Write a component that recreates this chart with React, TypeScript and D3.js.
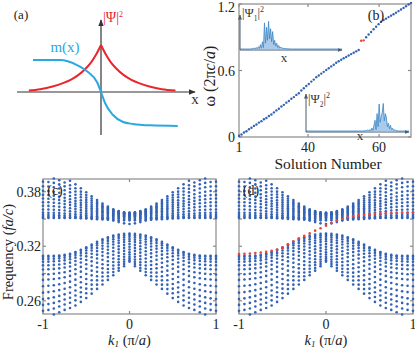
import React from 'react'
import * as d3 from 'd3'

const W = 415
const H = 348
const FONT = '"Liberation Serif", "Times New Roman", serif'
const DOT_BLUE = '#3462b4'
const DOT_RED = '#e8453c'
const BOX = '#8a8a8a'

// ---- (a) schematic: |psi|^2 and mass profile m(x)
const psiX = [-0.95, -0.8, -0.65, -0.5, -0.4, -0.3, -0.2, -0.13, -0.07, 0, 0.07, 0.13, 0.2, 0.3, 0.4, 0.5, 0.65, 0.8, 0.98]
const psiY = [0.03, 0.06, 0.11, 0.19, 0.26, 0.36, 0.5, 0.63, 0.78, 1, 0.78, 0.63, 0.5, 0.36, 0.26, 0.19, 0.11, 0.06, 0.03]
const mX = [-0.895, -0.54, -0.316, -0.171, -0.053, 0, 0.053, 0.158, 0.29, 0.42, 0.645, 1.01]
const mY = [0.68, 0.68, 0.574, 0.426, 0.213, 0, -0.234, -0.489, -0.638, -0.68, -0.71, -0.723]

// ---- (b) eigenfrequency vs solution number
const bOmega = [
  0.010, 0.022, 0.040, 0.052, 0.070, 0.083, 0.100, 0.113, 0.130, 0.143,
  0.160, 0.172, 0.190, 0.203, 0.222, 0.240, 0.255, 0.275, 0.290, 0.310,
  0.325, 0.345, 0.360, 0.380, 0.395, 0.420, 0.440, 0.460, 0.478, 0.500,
  0.518, 0.540, 0.555, 0.572, 0.588, 0.605, 0.620, 0.637, 0.652, 0.670,
  0.683, 0.697, 0.710, 0.722, 0.735, 0.748, 0.760, 0.773, 0.785, 0.868,
  0.872, 0.900, 0.925, 0.948, 0.972, 0.995, 1.018, 1.040, 1.055, 1.068,
  1.082, 1.095, 1.108, 1.122, 1.136, 1.150, 1.165, 1.180, 1.195, 1.210,
]
const bRed = [50, 51]
const bYTicks = [0, 0.6, 1.2]
const bYTickLabels = ['0', '0.6', '1.2']
const bXTicks = [1, 28.7, 57.2]
const bXTickLabels = ['1', '40', '60']

// insets: mode profiles
const ins1X = [0, 10, 12, 14, 15, 16, 17, 18, 19, 20, 21, 22, 23, 24, 25, 26, 27, 28, 29, 30, 31, 32, 33, 34, 35, 36, 37, 38, 39, 40, 42, 45, 50, 100]
const ins1Y = [0, 0, 0.01, 0.03, 0, 0.05, 0.01, 0.08, 0.02, 0.15, 0.03, 0.25, 0.05, 0.9, 0.2, 0.75, 0.3, 0.95, 0.35, 0.7, 0.25, 0.6, 0.15, 0.3, 0.1, 0.2, 0.05, 0.12, 0.03, 0.06, 0.02, 0.01, 0, 0]
const ins2X = [0, 55, 58, 60, 61, 62, 63, 64, 65, 66, 67, 68, 69, 70, 71, 72, 73, 74, 75, 76, 77, 78, 79, 80, 81, 82, 83, 84, 85, 86, 88, 90, 100]
const ins2Y = [0, 0, 0.01, 0.03, 0, 0.05, 0.01, 0.1, 0.02, 0.2, 0.37, 0.05, 0.6, 0.15, 0.93, 0.3, 0.5, 0.63, 0.95, 0.35, 0.6, 0.47, 0.15, 0.27, 0.08, 0.2, 0.05, 0.1, 0.02, 0.04, 0.01, 0, 0]

// ---- (c),(d) projected band structure, k >= 0 half (mirrored for k < 0)
const kHalf = [0, 0.0625, 0.125, 0.1875, 0.25, 0.3125, 0.375, 0.4375, 0.5, 0.5625, 0.625, 0.6875, 0.75, 0.8125, 0.875, 0.9375, 1]
const upperBands = [
  [0.3445, 0.3452, 0.3466, 0.3484, 0.3499, 0.3507, 0.3511, 0.3512, 0.3512, 0.3512, 0.3512, 0.3512, 0.3512, 0.3512, 0.3512, 0.3512, 0.3512],
  [0.3485, 0.3485, 0.3487, 0.3488, 0.3491, 0.3494, 0.3497, 0.3501, 0.3505, 0.3509, 0.3513, 0.3516, 0.3519, 0.3522, 0.3523, 0.3525, 0.3525],
  [0.35, 0.35, 0.3502, 0.3504, 0.3507, 0.351, 0.3514, 0.3518, 0.3523, 0.3527, 0.3531, 0.3535, 0.3538, 0.3541, 0.3543, 0.3545, 0.3545],
  [0.351, 0.3511, 0.3512, 0.3515, 0.3519, 0.3523, 0.3529, 0.3534, 0.354, 0.3546, 0.3551, 0.3557, 0.3561, 0.3565, 0.3568, 0.3569, 0.357],
  [0.352, 0.3521, 0.3523, 0.3527, 0.3532, 0.3539, 0.3546, 0.3554, 0.3563, 0.3571, 0.3579, 0.3586, 0.3593, 0.3598, 0.3602, 0.3604, 0.3605],
  [0.353, 0.3531, 0.3534, 0.354, 0.3547, 0.3556, 0.3566, 0.3576, 0.3588, 0.3599, 0.3609, 0.3619, 0.3628, 0.3635, 0.3641, 0.3644, 0.3645],
  [0.354, 0.3541, 0.3546, 0.3552, 0.3561, 0.3572, 0.3585, 0.3598, 0.3613, 0.3627, 0.364, 0.3653, 0.3664, 0.3673, 0.3679, 0.3684, 0.3685],
  [0.3545, 0.3547, 0.3552, 0.356, 0.3571, 0.3585, 0.3601, 0.3617, 0.3635, 0.3653, 0.3669, 0.3685, 0.3699, 0.371, 0.3718, 0.3723, 0.3725],
  [0.355, 0.3552, 0.3558, 0.3568, 0.3581, 0.3598, 0.3616, 0.3637, 0.3658, 0.3678, 0.3699, 0.3717, 0.3734, 0.3747, 0.3757, 0.3763, 0.3765],
  [0.3555, 0.3557, 0.3565, 0.3576, 0.3592, 0.3612, 0.3634, 0.3658, 0.3683, 0.3707, 0.3731, 0.3753, 0.3773, 0.3789, 0.38, 0.3808, 0.381],
  [0.356, 0.3563, 0.3571, 0.3585, 0.3604, 0.3627, 0.3653, 0.3681, 0.371, 0.3739, 0.3767, 0.3793, 0.3816, 0.3835, 0.3849, 0.3857, 0.386],
  [0.3563, 0.3566, 0.3576, 0.3592, 0.3614, 0.364, 0.367, 0.3703, 0.3737, 0.377, 0.3803, 0.3833, 0.3859, 0.3881, 0.3897, 0.3907, 0.391],
  [0.3566, 0.357, 0.3581, 0.3599, 0.3624, 0.3654, 0.3688, 0.3725, 0.3763, 0.3801, 0.3838, 0.3872, 0.3902, 0.3927, 0.3945, 0.3956, 0.396],
  [0.357, 0.3574, 0.3587, 0.3608, 0.3636, 0.367, 0.3709, 0.3751, 0.3795, 0.3839, 0.3881, 0.392, 0.3954, 0.3982, 0.4003, 0.4016, 0.402],
]
const lowerBands = [
  [0.334, 0.3338, 0.333, 0.3318, 0.33, 0.3276, 0.3249, 0.322, 0.319, 0.3161, 0.3137, 0.3117, 0.3105, 0.3099, 0.3096, 0.3095, 0.3095],
  [0.3325, 0.3321, 0.3313, 0.3301, 0.3283, 0.326, 0.3234, 0.3206, 0.3177, 0.315, 0.3127, 0.3108, 0.3096, 0.309, 0.3087, 0.3085, 0.3085],
  [0.3305, 0.33, 0.3291, 0.3277, 0.3259, 0.3236, 0.321, 0.3182, 0.3153, 0.3126, 0.3103, 0.3085, 0.3073, 0.3067, 0.3063, 0.3061, 0.306],
  [0.328, 0.3273, 0.3263, 0.3249, 0.323, 0.3206, 0.3181, 0.3153, 0.3124, 0.3098, 0.3075, 0.3057, 0.3045, 0.3038, 0.3034, 0.3031, 0.303],
  [0.3255, 0.3247, 0.3235, 0.3219, 0.3198, 0.3174, 0.3147, 0.3118, 0.3089, 0.3062, 0.3038, 0.302, 0.3008, 0.3, 0.2995, 0.2992, 0.299],
  [0.3225, 0.3215, 0.3201, 0.3183, 0.3162, 0.3136, 0.3108, 0.3079, 0.3049, 0.3021, 0.2997, 0.2978, 0.2966, 0.2957, 0.2951, 0.2947, 0.2945],
  [0.3195, 0.3182, 0.3166, 0.3146, 0.3122, 0.3095, 0.3065, 0.3034, 0.3002, 0.2973, 0.2947, 0.2928, 0.2915, 0.2905, 0.2898, 0.2893, 0.289],
  [0.3165, 0.3149, 0.313, 0.3107, 0.3081, 0.3051, 0.3019, 0.2986, 0.2952, 0.2921, 0.2894, 0.2874, 0.286, 0.2849, 0.284, 0.2834, 0.283],
  [0.3135, 0.3115, 0.3092, 0.3066, 0.3036, 0.3003, 0.2969, 0.2932, 0.2895, 0.2862, 0.2833, 0.2811, 0.2796, 0.2783, 0.2772, 0.2765, 0.276],
  [0.311, 0.3085, 0.3058, 0.3027, 0.2994, 0.2957, 0.292, 0.288, 0.284, 0.2805, 0.2773, 0.275, 0.2733, 0.2718, 0.2705, 0.2696, 0.269],
  [0.3085, 0.3055, 0.3023, 0.2988, 0.295, 0.291, 0.287, 0.2827, 0.2785, 0.2747, 0.2713, 0.2689, 0.2671, 0.2654, 0.2638, 0.2627, 0.262],
  [0.3065, 0.303, 0.2993, 0.2952, 0.2911, 0.2868, 0.2825, 0.2778, 0.2734, 0.2695, 0.2659, 0.2633, 0.2615, 0.2595, 0.2577, 0.2564, 0.2555],
  [0.3045, 0.3004, 0.2961, 0.2916, 0.287, 0.2824, 0.2778, 0.2729, 0.2683, 0.2642, 0.2605, 0.2578, 0.2559, 0.2537, 0.2516, 0.25, 0.249],
  [0.303, 0.2981, 0.2932, 0.2881, 0.283, 0.278, 0.2731, 0.2679, 0.263, 0.2588, 0.2548, 0.2521, 0.25, 0.2475, 0.245, 0.2432, 0.242],
]
// edge state in (d)
const edgeK = [
  -1, -0.9375, -0.875, -0.8125, -0.75, -0.6875, -0.625, -0.5625, -0.5, -0.4375, -0.375, -0.3125, -0.25, -0.1875, -0.125, -0.0625,
  0, 0.0625, 0.125, 0.1875, 0.25, 0.3125, 0.375, 0.4375, 0.5, 0.5625, 0.625, 0.6875, 0.75, 0.8125, 0.875, 0.9375, 1,
]
const edgeF = [
  0.3115, 0.3117, 0.312, 0.3125, 0.3131, 0.3138, 0.315, 0.3165, 0.3185, 0.3222, 0.3255, 0.3287, 0.3314, 0.3343, 0.3372, 0.3399,
  0.3427, 0.3455, 0.3481, 0.3503, 0.3519, 0.3531, 0.354, 0.3547, 0.3553, 0.3557, 0.356, 0.3563, 0.3566, 0.3568, 0.357, 0.3572, 0.3573,
]
const fTicks = [0.26, 0.29, 0.32, 0.35, 0.38]
const fTickLabels = ['0.26', '', '0.32', '', '0.38']
const kTicks = [-1, 0, 1]
const kTickLabels = ['-1', '0', '1']

const F_MIN = 0.2455
const F_MAX = 0.394

type Scale = d3.ScaleLinear<number, number>

function Frame({ xs, ys, xt, yt }: { xs: Scale; ys: Scale; xt: number[]; yt: number[] }) {
  const [x0, x1] = xs.range()
  const [y0, y1] = ys.range()
  const t = 3
  return (
    <g stroke={BOX} strokeWidth={1.2} fill="none">
      <rect x={x0} y={y1} width={x1 - x0} height={y0 - y1} />
      {xt.map((v, i) => (
        <g key={'x' + i}>
          <line x1={xs(v)} x2={xs(v)} y1={y0} y2={y0 - t} />
          <line x1={xs(v)} x2={xs(v)} y1={y1} y2={y1 + t} />
        </g>
      ))}
      {yt.map((v, i) => (
        <g key={'y' + i}>
          <line x1={x0} x2={x0 + t} y1={ys(v)} y2={ys(v)} />
          <line x1={x1} x2={x1 - t} y1={ys(v)} y2={ys(v)} />
        </g>
      ))}
    </g>
  )
}

function BandPanel({ left, right, tag, yLabels, edge }: { left: number; right: number; tag: string; yLabels: boolean; edge: boolean }) {
  const xs = d3.scaleLinear().domain([-1, 1]).range([left, right])
  const ys = d3.scaleLinear().domain([F_MIN, F_MAX]).range([314, 179])
  const dots: React.ReactNode[] = []
  ;[...upperBands, ...lowerBands].forEach((band, bi) => {
    kHalf.forEach((k, j) => {
      const f = band[j]
      if (f < F_MIN - 0.0005 || f > F_MAX + 0.0005) return
      const ks = k === 0 ? [0] : [-k, k]
      ks.forEach((kk) => {
        dots.push(<circle key={`${bi}-${j}-${kk}`} cx={xs(kk)} cy={ys(f)} r={1.3} fill={DOT_BLUE} />)
      })
    })
  })
  const cx = xs(0)
  return (
    <g fontFamily={FONT}>
      <Frame xs={xs} ys={ys} xt={kTicks} yt={fTicks} />
      <clipPath id={'clip' + tag}>
        <rect x={left - 2} y={177} width={right - left + 4} height={139} />
      </clipPath>
      <g clipPath={`url(#clip${tag})`}>
        {dots}
        {edge &&
          edgeK.map((k, i) => <circle key={'e' + i} cx={xs(k)} cy={ys(edgeF[i])} r={1.3} fill={DOT_RED} />)}
      </g>
      <text x={left + 12} y={195} fontSize={14} textAnchor="middle" fill="#222">
        ({tag})
      </text>
      {yLabels &&
        fTicks.map((v, i) => (
          <text key={i} x={left - 2} y={ys(v) + 4.8} fontSize={14} textAnchor="end" fill="#222">
            {fTickLabels[i]}
          </text>
        ))}
      {kTicks.map((v, i) => (
        <text key={i} x={xs(v)} y={329} fontSize={14} textAnchor="middle" fill="#222">
          {kTickLabels[i]}
        </text>
      ))}
      <text x={cx} y={344.5} fontSize={14.5} textAnchor="middle" fill="#222">
        <tspan fontStyle="italic">k</tspan>
        <tspan fontStyle="italic" fontSize={9} dy={2.5}>
          1
        </tspan>
        <tspan dy={-2.5}> (π/</tspan>
        <tspan fontStyle="italic">a</tspan>)
      </text>
    </g>
  )
}

function PanelA() {
  const xs = d3.scaleLinear().domain([-1, 1]).range([25, 177])
  const ys = d3.scaleLinear().domain([-1, 1]).range([139, 45])
  const half = (xArr: number[], yArr: number[], pick: (v: number) => boolean) => {
    const idx = xArr.map((_, i) => i).filter((i) => pick(xArr[i]))
    return d3
      .line<number>()
      .x((i) => xs(xArr[i]))
      .y((i) => ys(yArr[i]))
      .curve(d3.curveMonotoneX)(idx)
  }
  const mPath = d3
    .line<number>()
    .x((i) => xs(mX[i]))
    .y((i) => ys(mY[i]))
    .curve(d3.curveMonotoneX)(mX.map((_, i) => i))
  return (
    <g fontFamily={FONT}>
      <line x1={17} y1={ys(0)} x2={195} y2={ys(0)} stroke="#333" strokeWidth={1.2} markerEnd="url(#arrA)" />
      <line x1={xs(0)} y1={135} x2={xs(0)} y2={20} stroke="#333" strokeWidth={1.2} markerEnd="url(#arrA)" />
      <path d={half(psiX, psiY, (v) => v <= 0) || ''} fill="none" stroke="#e8262c" strokeWidth={2} />
      <path d={half(psiX, psiY, (v) => v >= 0) || ''} fill="none" stroke="#e8262c" strokeWidth={2} />
      <path d={mPath || ''} fill="none" stroke="#2aa8e0" strokeWidth={2} />
      <text x={21} y={19} fontSize={13} textAnchor="middle" fill="#222">
        (a)
      </text>
      <text x={65} y={52} fontSize={15} textAnchor="middle" fill="#2aa8e0">
        m(x)
      </text>
      <text x={103} y={22} fontSize={14} fill="#e8262c">
        |Ψ|
        <tspan fontSize={8} dy={-5}>
          2
        </tspan>
      </text>
      <text x={195} y={104} fontSize={15} textAnchor="middle" fill="#333">
        x
      </text>
    </g>
  )
}

function Inset({ xArr, yArr, x0, x1, yBase, yTop, sub, labelX, labelY, xLabX, xLabY }: any) {
  const xs = d3.scaleLinear().domain([0, 100]).range([x0, x1])
  const ys = d3.scaleLinear().domain([0, 1]).range([yBase - 1, yBase - 30])
  const pts = xArr.map((_: number, i: number) => i)
  const area = d3
    .area<number>()
    .x((i) => xs(xArr[i]))
    .y0(yBase - 1)
    .y1((i) => ys(yArr[i]))(pts)
  const ln = d3
    .line<number>()
    .x((i) => xs(xArr[i]))
    .y((i) => ys(yArr[i]))(pts)
  return (
    <g fontFamily={FONT}>
      <path d={area || ''} fill="#a9cbe9" stroke="none" />
      <path d={ln || ''} fill="none" stroke="#3b86c6" strokeWidth={0.8} />
      <line x1={x0} y1={yBase} x2={x1} y2={yBase} stroke="#4a5b70" strokeWidth={1} markerEnd="url(#arrI)" />
      <line x1={x0} y1={yBase} x2={x0} y2={yTop} stroke="#4a5b70" strokeWidth={1} markerEnd="url(#arrI)" />
      <text x={labelX} y={labelY} fontSize={12.5} fill="#333">
        |Ψ
        <tspan fontSize={7.5} dy={4}>
          {sub}
        </tspan>
        <tspan dy={-4}>|</tspan>
        <tspan fontSize={8} dy={-5}>
          2
        </tspan>
      </text>
      <text x={xLabX} y={xLabY} fontSize={13} textAnchor="middle" fill="#333">
        x
      </text>
    </g>
  )
}

function PanelB() {
  const xs = d3.scaleLinear().domain([1, 70]).range([239, 411])
  const ys = d3.scaleLinear().domain([0, 1.2]).range([137, 4])
  return (
    <g fontFamily={FONT}>
      <Frame xs={xs} ys={ys} xt={bXTicks} yt={bYTicks} />
      <Inset xArr={ins1X} yArr={ins1Y} x0={240} x1={342} yBase={50} yTop={15} sub="1" labelX={242} labelY={17} xLabX={284} xLabY={62} />
      <Inset xArr={ins2X} yArr={ins2Y} x0={306} x1={409} yBase={132} yTop={94} sub="2" labelX={308} labelY={103} xLabX={360} xLabY={140} />
      {bOmega.map((w, i) => (
        <circle
          key={i}
          cx={xs(i + 1)}
          cy={ys(w)}
          r={1.2}
          fill={bRed.includes(i + 1) ? DOT_RED : DOT_BLUE}
        />
      ))}
      {bYTicks.map((v, i) => (
        <text key={i} x={235} y={Math.max(ys(v) + 5, 11.5)} fontSize={14} textAnchor="end" fill="#222">
          {bYTickLabels[i]}
        </text>
      ))}
      {bXTicks.map((v, i) => (
        <text key={i} x={xs(v)} y={152} fontSize={14} textAnchor="middle" fill="#222">
          {bXTickLabels[i]}
        </text>
      ))}
      <text x={328} y={169} fontSize={15.5} textAnchor="middle" fill="#222">
        Solution Number
      </text>
      <text transform="translate(215,76) rotate(-90)" fontSize={16} textAnchor="middle" fill="#222">
        ω (2π<tspan fontStyle="italic">c</tspan>/<tspan fontStyle="italic">a</tspan>)
      </text>
      <text x={376} y={20} fontSize={14} textAnchor="middle" fill="#222">
        (b)
      </text>
    </g>
  )
}

export default function App() {
  return (
    <svg
      width={W}
      height={H}
      viewBox={`0 0 ${W} ${H}`}
      style={{ position: 'absolute', left: 0, top: 0, background: '#fff' }}
    >
      <defs>
        <marker id="arrA" viewBox="0 0 10 10" refX="9" refY="5" markerWidth={7} markerHeight={7} markerUnits="userSpaceOnUse" orient="auto">
          <path d="M0,1 L10,5 L0,9 z" fill="#333" />
        </marker>
        <marker id="arrI" viewBox="0 0 10 10" refX="9" refY="5" markerWidth={5} markerHeight={5} markerUnits="userSpaceOnUse" orient="auto">
          <path d="M0,1 L10,5 L0,9 z" fill="#4a5b70" />
        </marker>
      </defs>
      <rect width={W} height={H} fill="#fff" />
      <PanelA />
      <PanelB />
      <BandPanel left={43} right={216} tag="c" yLabels={true} edge={false} />
      <BandPanel left={239} right={413} tag="d" yLabels={false} edge={true} />
      <text transform="translate(13,252) rotate(-90)" fontFamily={FONT} fontSize={14.5} textAnchor="middle" fill="#222">
        Frequency (<tspan fontStyle="italic">fa/c</tspan>)
      </text>
    </svg>
  )
}
